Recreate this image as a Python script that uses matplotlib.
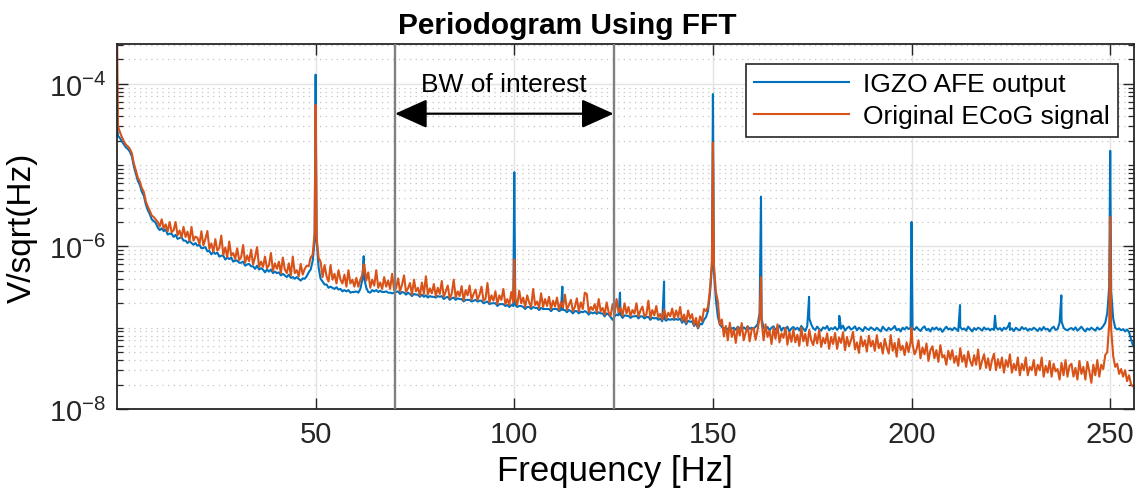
import matplotlib

matplotlib.use("Agg")
import matplotlib.pyplot as plt
import numpy as np
from matplotlib.patches import FancyArrowPatch
from matplotlib.ticker import LogLocator, NullFormatter

plt.rcParams["font.family"] = ["Liberation Sans", "DejaVu Sans"]
plt.rcParams["mathtext.fontset"] = "custom"
plt.rcParams["mathtext.rm"] = "Liberation Sans"
plt.rcParams["mathtext.it"] = "Liberation Sans:italic"
plt.rcParams["mathtext.bf"] = "Liberation Sans:bold"
plt.rcParams["axes.unicode_minus"] = False

# values in units of 1e-7 V/sqrt(Hz)
UNIT = 1e-7
BIN_FREQ = np.arange(0.25, 256, 0.5)  # 0.25, 0.75, ... 255.75 Hz

ecog_base = [
    300, 255, 220, 196, 178, 170, 158, 140, 104, 86, 70, 63, 52, 47, 36, 31, 27.5, 24, 23, 21.5,
    20, 17.6, 21.6, 16.6, 18.7, 15.3, 20, 15, 15.8, 20, 13.7, 15.7, 12.9, 17.4, 13.1, 15.2, 11.7, 17.4, 11.8, 13.2,
    12.8, 10.7, 15.4, 10.3, 12.4, 15.5, 9.3, 10.9, 8.6, 12.3, 8.9, 9.6, 13.6, 7.9, 9.7, 7.4, 11.5, 7.7, 8.3, 7.0,
    9.5, 6.8, 7.4, 10.4, 6.3, 7.7, 6.6, 9.1, 6.0, 7.4, 9.8, 5.6, 6.5, 5.6, 7.5, 5.4, 5.9, 8.3, 5.0, 6.2,
    5.3, 6.5, 4.7, 7.3, 5.2, 4.7, 6.2, 4.4, 7.5, 4.7, 5.1, 4.3, 6.1, 4.5, 5.3, 5.8, 5.7, 7.3, 7.9, 15,
    13, 7.2, 6.5, 4.2, 5.9, 4.3, 3.7, 5.9, 3.9, 4.6, 3.5, 5.1, 3.9, 3.5, 4.5, 3.2, 5.1, 3.5, 3.9, 3.2,
    4.1, 3.2, 3.9, 4.5, 6.0, 3.8, 4.8, 3.1, 3.9, 3.3, 5.1, 3.1, 3.6, 3.0, 4.2, 3.2, 3.8, 3.0, 4.6, 2.9,
    3.05, 4.05, 2.8, 3.4, 4.4, 2.75, 3.05, 3.55, 2.55, 3.9, 2.8, 3.1, 2.5, 3.6, 2.6, 4.3, 2.55, 3.05, 2.65, 3.45,
    2.45, 3.1, 2.6, 3.75, 2.4, 2.8, 3.3, 2.3, 2.6, 3.9, 2.35, 2.8, 2.45, 3.25, 2.15, 2.9, 2.5, 3.3, 2.2, 2.6,
    2.95, 2.2, 2.55, 3.2, 2.15, 2.25, 3.55, 2.05, 2.5, 2.15, 2.8, 1.95, 2.5, 2.2, 3.0, 1.95, 2.25, 1.9, 2.75, 2.05,
    2.3, 1.9, 2.85, 2.0, 2.35, 1.8, 2.5, 2.05, 1.8, 3.0, 1.9, 2.1, 1.75, 2.65, 1.8, 2.25, 1.85, 2.4, 1.7, 2.15,
    1.82, 2.35, 1.67, 2.05, 1.78, 2.55, 1.67, 1.9, 2.2, 1.6, 1.8, 2.3, 1.6, 2.05, 1.7, 2.7, 2.6, 1.55, 1.8, 1.65,
    1.95, 1.55, 2.25, 1.6, 1.75, 1.45, 2.05, 1.55, 1.4, 1.95, 1.45, 2.25, 1.55, 1.75, 1.4, 2.0, 1.5, 1.8, 1.4, 1.65,
    1.49, 2.0, 1.38, 1.62, 1.82, 1.39, 1.45, 2.15, 1.32, 1.65, 1.42, 1.85, 1.34, 1.48, 1.26, 1.68, 1.29, 1.53, 1.38, 1.72,
    1.3, 1.63, 1.35, 1.8, 1.22, 1.45, 1.15, 1.63, 1.29, 1.47, 1.08, 1.32, 1.0, 1.38, 1.2, 1.7, 1.6, 1.8, 2.95, 6.6,
    6.0, 2.75, 2.1, 1.08, 1.26, 0.78, 1.05, 0.7, 1.15, 0.77, 0.95, 0.65, 1.02, 0.8, 1.14, 0.7, 0.87, 1.04, 0.68, 0.95,
    0.99, 0.71, 0.95, 1.32, 1.2, 0.7, 1.1, 0.77, 0.92, 0.63, 1.0, 0.73, 1.1, 0.66, 0.85, 0.75, 1.0, 0.62, 0.88, 0.67,
    0.95, 0.66, 0.82, 0.6, 1.0, 0.68, 0.84, 0.6, 0.94, 0.7, 0.61, 0.84, 0.64, 0.94, 0.58, 0.75, 0.64, 0.85, 0.55, 0.77,
    0.63, 0.86, 0.55, 0.76, 0.65, 0.88, 0.53, 0.77, 0.59, 0.7, 0.89, 0.54, 0.66, 0.49, 0.78, 0.59, 0.7, 0.51, 0.8, 0.59,
    0.69, 0.52, 0.81, 0.56, 0.65, 0.48, 0.73, 0.57, 0.48, 0.81, 0.52, 0.65, 0.44, 0.73, 0.53, 0.6, 0.46, 0.66, 0.5, 0.67,
    0.63, 0.47, 0.54, 0.7, 0.42, 0.57, 0.47, 0.64, 0.39, 0.53, 0.59, 0.42, 0.53, 0.38, 0.61, 0.43, 0.46, 0.35, 0.52, 0.41,
    0.53, 0.37, 0.45, 0.34, 0.56, 0.38, 0.46, 0.33, 0.51, 0.39, 0.34, 0.46, 0.35, 0.54, 0.31, 0.39, 0.47, 0.32, 0.42, 0.3,
    0.4, 0.48, 0.3, 0.41, 0.32, 0.43, 0.28, 0.4, 0.33, 0.47, 0.28, 0.36, 0.3, 0.43, 0.26, 0.36, 0.3, 0.43, 0.26, 0.33,
    0.3, 0.4, 0.26, 0.35, 0.3, 0.43, 0.25, 0.34, 0.28, 0.39, 0.25, 0.36, 0.29, 0.31, 0.23, 0.37, 0.26, 0.4, 0.25, 0.34,
    0.36, 0.25, 0.32, 0.23, 0.39, 0.27, 0.33, 0.23, 0.38, 0.29, 0.21, 0.35, 0.26, 0.4, 0.25, 0.35, 0.31, 0.46, 0.5, 1.1,
    0.95, 0.45, 0.33, 0.36, 0.27, 0.31, 0.25, 0.3, 0.22, 0.26, 0.2, 0.19,
]

igzo_base = [
    230, 215, 195, 180, 165, 158, 146, 128, 96, 78, 64, 57, 47, 42, 33, 28, 25, 21.5, 20.5, 19.5,
    17.1, 15.9, 16.7, 15.4, 16.2, 14.0, 14.4, 14.3, 13.1, 13.9, 12.4, 12.7, 13.0, 11.8, 11.8, 11.0, 11.7, 11.0, 10.5, 11.0,
    10.2, 10.5, 9.5, 9.6, 9.8, 8.7, 8.8, 8.0, 8.6, 8.1, 8.4, 7.5, 7.7, 7.7, 6.9, 7.3, 7.0, 7.3, 6.5, 6.7,
    6.7, 6.3, 6.3, 6.5, 5.8, 6.0, 6.1, 5.7, 5.7, 5.3, 5.8, 5.2, 5.4, 5.2, 4.8, 5.2, 4.9, 5.2, 4.7, 4.9,
    4.7, 4.8, 4.4, 4.6, 4.4, 4.2, 4.5, 4.1, 4.2, 4.0, 4.2, 4.0, 3.8, 4.05, 4.0, 4.3, 4.8, 5.2, 6.6, 11.7,
    12, 5.5, 4.0, 3.7, 3.4, 3.4, 3.1, 3.2, 3.1, 3.0, 3.15, 2.95, 3.0, 2.8, 2.9, 2.8, 2.9, 2.7, 2.75, 2.75,
    2.8, 2.7, 3.0, 3.9, 4.0, 3.1, 2.75, 2.7, 2.9, 2.8, 2.9, 2.75, 2.85, 2.75, 2.75, 2.8, 2.7, 2.7, 2.65, 2.7,
    2.75, 2.8, 2.6, 2.75, 2.7, 2.55, 2.7, 2.6, 2.45, 2.6, 2.55, 2.55, 2.4, 2.55, 2.4, 2.5, 2.35, 2.45, 2.4, 2.4,
    2.35, 2.45, 2.4, 2.45, 2.25, 2.35, 2.4, 2.2, 2.3, 2.35, 2.2, 2.3, 2.25, 2.25, 2.1, 2.2, 2.2, 2.2, 2.1, 2.15,
    2.2, 2.1, 2.15, 2.15, 2.0, 2.05, 2.1, 1.95, 2.0, 2.0, 2.0, 1.85, 1.95, 1.95, 1.95, 1.85, 1.9, 1.8, 1.9, 1.85,
    1.9, 1.8, 1.85, 1.85, 1.8, 1.7, 1.8, 1.8, 1.7, 1.8, 1.75, 1.75, 1.65, 1.75, 1.7, 1.7, 1.7, 1.7, 1.6, 1.7,
    1.7, 1.7, 1.6, 1.65, 1.65, 1.65, 1.55, 1.65, 1.6, 1.5, 1.6, 1.6, 1.5, 1.58, 1.55, 1.6, 1.55, 1.45, 1.55, 1.5,
    1.55, 1.48, 1.55, 1.5, 1.5, 1.38, 1.5, 1.45, 1.35, 1.25, 1.38, 1.45, 1.42, 1.45, 1.32, 1.42, 1.4, 1.4, 1.32, 1.38,
    1.38, 1.4, 1.3, 1.38, 1.38, 1.3, 1.35, 1.36, 1.25, 1.33, 1.3, 1.32, 1.25, 1.3, 1.2, 1.28, 1.22, 1.28, 1.25, 1.28,
    1.25, 1.28, 1.25, 1.3, 1.15, 1.25, 1.1, 1.22, 1.18, 1.2, 1.05, 1.15, 0.98, 1.12, 1.1, 1.25, 1.35, 1.6, 2.6, 5.6,
    5.0, 2.2, 1.35, 1.1, 1.02, 0.98, 1.0, 0.95, 1.02, 0.97, 1.0, 0.94, 1.03, 0.98, 0.95, 1.01, 0.96, 1.04, 0.97, 1.0,
    0.97, 1.03, 1.1, 1.5, 1.3, 1.0, 0.95, 1.02, 0.93, 1.0, 1.04, 0.94, 0.99, 1.06, 0.92, 1.0, 0.96, 1.03, 0.9, 0.98,
    1.02, 0.95, 1.0, 0.93, 1.05, 0.97, 0.91, 1.05, 1.3, 1.1, 0.98, 0.94, 1.03, 0.96, 0.92, 1.01, 0.97, 1.05, 0.93, 0.99,
    0.96, 1.02, 0.94, 1.0, 0.97, 1.06, 0.92, 0.99, 1.03, 0.95, 0.98, 1.04, 0.93, 1.0, 0.96, 0.91, 1.02, 0.97, 0.94, 1.01,
    0.97, 0.93, 1.0, 0.95, 0.9, 1.03, 0.96, 0.92, 1.0, 0.94, 0.98, 1.05, 0.93, 0.97, 0.9, 1.0, 0.95, 1.02, 0.96, 1.0,
    0.99, 0.94, 1.02, 0.96, 0.91, 0.99, 1.04, 0.93, 0.97, 0.9, 1.0, 0.95, 1.01, 0.94, 0.98, 0.89, 0.96, 1.03, 0.95, 0.98,
    0.93, 1.0, 0.96, 0.91, 1.02, 0.95, 0.98, 0.92, 1.03, 0.96, 0.9, 0.99, 0.94, 1.0, 0.97, 0.92, 1.01, 0.95, 0.98, 0.93,
    0.97, 0.94, 1.01, 0.95, 0.99, 0.92, 1.0, 0.96, 1.03, 0.94, 0.98, 0.91, 1.0, 0.95, 0.93, 1.02, 0.96, 0.99, 0.92, 0.97,
    0.94, 1.0, 0.96, 0.91, 0.99, 0.93, 1.02, 0.95, 0.97, 0.9, 0.98, 1.03, 0.94, 0.96, 1.15, 1.2, 1.0, 0.95, 0.93, 0.97,
    0.99, 0.94, 1.01, 0.92, 0.97, 1.03, 0.95, 0.9, 0.98, 0.94, 1.0, 0.96, 0.92, 1.01, 0.95, 0.98, 1.05, 1.15, 1.5, 3.2,
    2.8, 1.3, 1.0, 0.95, 0.98, 0.93, 0.96, 0.9, 0.95, 0.88, 0.72, 0.6,
]

# narrow spectral lines (and the DC bin), frequency in Hz, value in UNIT
igzo_line_freq = [0.0, 50.0, 62.1, 100.0, 112.1, 126.6, 137.7, 150.0, 162.1,
                  174.2, 181.8, 200.0, 212.2, 221.0, 224.7, 237.7, 250.0]
igzo_line_val = [320, 1300, 7.6, 82, 3.2, 2.7, 3.7, 750, 41,
                 2.4, 1.4, 20, 1.9, 1.4, 1.15, 2.5, 150]

ecog_line_freq = [0.0, 50.0, 62.1, 100.0, 150.0, 162.1, 200.0, 250.0]
ecog_line_val = [5000, 550, 6.0, 6.9, 190, 4.2, 1.0, 23]

BW_LOW, BW_HIGH = 70, 125

assert len(ecog_base) == len(BIN_FREQ) and len(igzo_base) == len(BIN_FREQ)


def merge(base, line_f, line_v):
    f = np.concatenate([BIN_FREQ, line_f])
    v = np.concatenate([base, line_v]) * UNIT
    order = np.argsort(f, kind="stable")
    return f[order], v[order]


f_igzo, v_igzo = merge(igzo_base, igzo_line_freq, igzo_line_val)
f_ecog, v_ecog = merge(ecog_base, ecog_line_freq, ecog_line_val)

fig = plt.figure(figsize=(11.37, 5.02), dpi=100)
ax = fig.add_axes([0.1029, 0.1833, 0.8945, 0.7271])

ax.plot(f_igzo, v_igzo, color="#0072BD", lw=1.5, label="IGZO AFE output", zorder=2)
ax.plot(f_ecog, v_ecog, color="#D95319", lw=1.5, label="Original ECoG signal", zorder=2.1)

ax.set_yscale("log")
ax.set_xlim(0, 256)
ax.set_ylim(1e-8, 3.1e-4)
ax.set_xticks([50, 100, 150, 200, 250])
ax.yaxis.set_major_locator(LogLocator(base=100))
ax.yaxis.set_minor_locator(LogLocator(base=10, subs=np.arange(1, 10), numticks=50))
ax.yaxis.set_minor_formatter(NullFormatter())

ax.grid(True, which="major", color="#e3e3e3", lw=1.0, ls="-", zorder=0)
ax.grid(True, which="minor", axis="y", color="#c4c4c4", lw=0.9, ls=(0, (1, 3.5)), zorder=0)
ax.set_axisbelow(True)

ax.tick_params(which="both", direction="in", top=True, right=True, colors="#262626")
ax.tick_params(which="major", length=8, width=1.0, labelsize=21, pad=8)
ax.tick_params(which="minor", length=4.5, width=0.9)
ax.tick_params(axis="x", which="minor", length=0)
for sp in ax.spines.values():
    sp.set_color("#262626")
    sp.set_linewidth(1.3)

for x in (BW_LOW, BW_HIGH):
    ax.axvline(x, color="#808080", lw=1.7, zorder=3)

arrow = FancyArrowPatch((BW_LOW, 4.3e-5), (BW_HIGH, 4.3e-5),
                        arrowstyle="<|-|>,head_length=1.0,head_width=0.45",
                        mutation_scale=20, color="black", lw=1.6,
                        shrinkA=0, shrinkB=0, zorder=4)
ax.add_patch(arrow)
ax.text((BW_LOW + BW_HIGH) / 2, 1.0e-4, "BW of interest", fontsize=19,
        ha="center", va="center", zorder=4)

# MATLAB centres the title on the figure, not on the axes
ax.set_title("Periodogram Using FFT", fontsize=21.5, fontweight="bold", pad=8, x=0.443)
ax.set_xlabel("Frequency [Hz]", fontsize=25, labelpad=4, x=0.49)
ax.set_ylabel("V/sqrt(Hz)", fontsize=24, labelpad=8)

leg = ax.legend(loc="upper right", bbox_to_anchor=(0.984, 0.945), borderaxespad=0,
                fontsize=19, fancybox=False, framealpha=1, edgecolor="#262626",
                handlelength=3.6, handletextpad=0.5, borderpad=0.32, labelspacing=0.3)
leg.get_frame().set_linewidth(1.2)
leg.set_zorder(5)

fig.savefig("out.png", dpi=100)
